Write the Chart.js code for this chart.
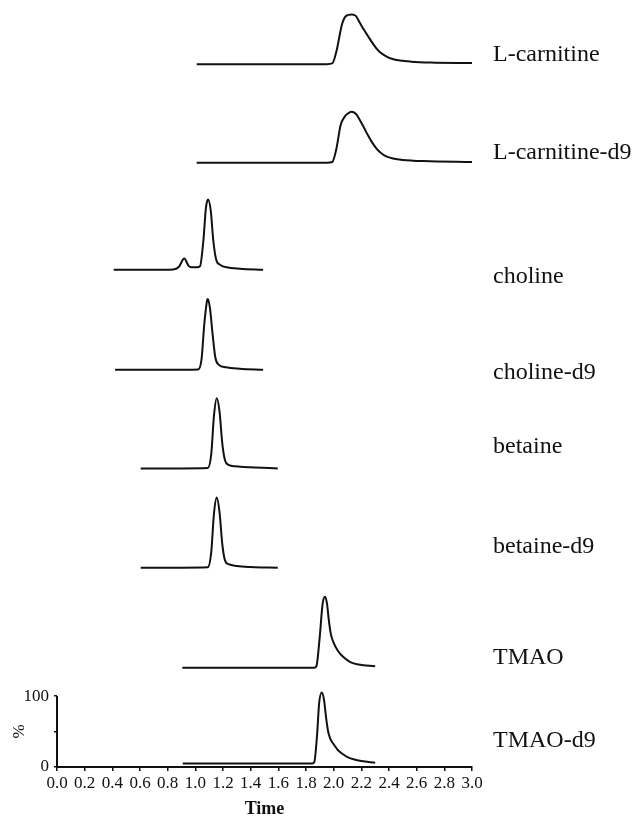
<!DOCTYPE html>
<html>
<head>
<meta charset="utf-8">
<script src="https://cdn.jsdelivr.net/npm/chart.js@4.4.1/dist/chart.umd.min.js"></script>
<style>
  html, body { margin: 0; padding: 0; background: #fff; }
  #wrap { width: 634px; height: 818px; }
</style>
</head>
<body>
<div id="wrap"><canvas id="chart" width="634" height="818"></canvas></div>
<script>
/*Trace names, top to bottom*/
var names = ['L-carnitine', 'L-carnitine-d9', 'choline', 'choline-d9', 'betaine', 'betaine-d9', 'TMAO', 'TMAO-d9'];

/*Chromatograms: [time (min), intensity (%)]*/
var lCarnitine = [[1.01,5],[1.5,5],[1.95,5],[1.99,6],[2.02,23],[2.06,61],[2.09,73],[2.13,75],[2.16,73],[2.19,63],[2.22,53],[2.25,44],[2.28,35],[2.31,27],[2.34,21],[2.38,16],[2.42,12.5],[2.48,10],[2.56,8.5],[2.7,7.3],[3.0,6.5]];
var lCarnitineD9 = [[1.01,5],[1.5,5],[1.95,5],[1.99,6],[2.02,25],[2.05,58],[2.08,70],[2.10,74],[2.13,77],[2.16,74],[2.19,65],[2.22,54],[2.25,43],[2.28,33],[2.31,25],[2.34,19],[2.38,14],[2.43,11],[2.5,9],[2.65,7.3],[3.0,6]];
var choline = [[0.41,5],[0.7,5],[0.84,5.5],[0.88,9],[0.92,21],[0.95,11],[0.97,8.5],[1.01,8.5],[1.034,10],[1.058,46],[1.077,93],[1.092,104],[1.111,89],[1.130,46],[1.150,20],[1.179,12],[1.227,8.5],[1.323,6.5],[1.49,5]];
var cholineD9 = [[0.42,5],[0.8,5],[1.02,5.5],[1.045,20],[1.065,70],[1.085,103],[1.09,105],[1.105,93],[1.125,55],[1.145,22],[1.17,12],[1.22,8.5],[1.32,6.5],[1.49,5]];
var betaine = [[0.605,5],[0.9,5],[1.09,5.5],[1.115,25],[1.135,80],[1.155,104],[1.175,85],[1.195,40],[1.215,16],[1.24,10],[1.29,8],[1.40,6.5],[1.596,5]];
var betaineD9 = [[0.605,5],[0.9,5],[1.09,5.5],[1.115,27],[1.135,82],[1.155,104],[1.175,83],[1.195,38],[1.215,15],[1.24,10],[1.30,7.5],[1.40,6],[1.596,5]];
var tmao = [[0.906,5],[1.4,5],[1.86,5],[1.875,7],[1.90,50],[1.92,95],[1.938,105],[1.952,95],[1.965,72],[1.98,52],[2.0,40],[2.03,29],[2.07,20],[2.12,13],[2.18,9.5],[2.30,7]];
var tmaoD9 = [[0.909,5],[1.4,5],[1.845,5],[1.86,7],[1.88,45],[1.895,90],[1.914,105],[1.93,95],[1.945,70],[1.96,50],[1.975,40],[2.0,32],[2.03,24],[2.06,19],[2.1,14],[2.15,10.5],[2.2,8.5],[2.3,6]];

var traces = [lCarnitine, lCarnitineD9, choline, cholineD9, betaine, betaineD9, tmao, tmaoD9];

/*Axis ticks*/
var xTicks = [0.0, 0.2, 0.4, 0.6, 0.8, 1.0, 1.2, 1.4, 1.6, 1.8, 2.0, 2.2, 2.4, 2.6, 2.8, 3.0];
var yTicks = [0, 50, 100];
var yLabels = ['0', '', '100'];

/*Layout: vertical stacking of traces (in % units) and label nudges (px)*/
var stackOffsets = [986, 847, 696, 555, 416, 276, 135, 0];
var labelShift = [-3, -4, 13, 9, -15, -15, -4, -16];

var serif = '"Liberation Serif", "Times New Roman", serif';

var datasets = traces.map(function(trace, i) {
    return {
        label: names[i],
        data: trace.map(function(p) { return { x: p[0], y: p[1] + stackOffsets[i] }; }),
        borderColor: '#111',
        borderWidth: 2,
        pointRadius: 0,
        fill: false,
        clip: false,
        cubicInterpolationMode: 'monotone'
    };
});

/*Labels on the right + short y axis*/
var decorations = {
    id: 'decorations',
    afterDraw: function(chart) {
        var ctx = chart.ctx;
        var y = chart.scales.y;
        var area = chart.chartArea;

        ctx.save();
        ctx.fillStyle = '#111';
        ctx.font = '24px ' + serif;
        ctx.textBaseline = 'alphabetic';
        ctx.textAlign = 'left';
        names.forEach(function(name, i) {
            var py = y.getPixelForValue(stackOffsets[i] + 5) + labelShift[i];
            ctx.fillText(name, 493, py);
        });

        /*y axis line only from 0 to 100*/
        ctx.strokeStyle = '#111';
        ctx.lineWidth = 2;
        ctx.beginPath();
        ctx.moveTo(area.left, y.getPixelForValue(0) + 1);
        ctx.lineTo(area.left, y.getPixelForValue(100));
        ctx.stroke();

        /*% title*/
        ctx.translate(20, y.getPixelForValue(50));
        ctx.rotate(-Math.PI / 2);
        ctx.font = '17px ' + serif;
        ctx.textAlign = 'center';
        ctx.textBaseline = 'middle';
        ctx.fillText('%', 0, 0);
        ctx.restore();
    }
};

new Chart(document.getElementById('chart'), {
    type: 'line',
    data: { datasets: datasets },
    options: {
        responsive: false,
        animation: false,
        layout: { padding: { top: 5, right: 162, bottom: 0, left: 0 } },
        plugins: { legend: { display: false }, tooltip: { enabled: false } },
        scales: {
            x: {
                type: 'linear',
                min: 0,
                max: 3,
                afterBuildTicks: function(scale) {
                    scale.ticks = xTicks.map(function(v) { return { value: v }; });
                },
                afterFit: function(scale) { scale.height = 51; },
                ticks: {
                    color: '#111',
                    font: { family: serif, size: 17 },
                    padding: 2,
                    maxRotation: 0,
                    autoSkip: false,
                    callback: function(v) { return Number(v).toFixed(1); }
                },
                grid: { drawOnChartArea: false, drawTicks: true, tickLength: 4, color: '#111', lineWidth: 1.5 },
                border: { display: true, color: '#111', width: 2 },
                title: {
                    display: true,
                    text: 'Time',
                    color: '#111',
                    font: { family: serif, size: 18, weight: 'bold', lineHeight: 1 },
                    padding: { top: 0, bottom: 0 }
                }
            },
            y: {
                type: 'linear',
                min: 0,
                max: 1060,
                afterBuildTicks: function(scale) {
                    scale.ticks = yTicks.map(function(v) { return { value: v }; });
                },
                afterFit: function(scale) { scale.width = 57; },
                ticks: {
                    color: '#111',
                    font: { family: serif, size: 17 },
                    padding: 5,
                    autoSkip: false,
                    callback: function(v) { return yLabels[yTicks.indexOf(v)]; }
                },
                grid: { drawOnChartArea: false, drawTicks: true, tickLength: 3, color: '#111', lineWidth: 1.5 },
                border: { display: false }
            }
        }
    },
    plugins: [decorations]
});
</script>
</body>
</html>
